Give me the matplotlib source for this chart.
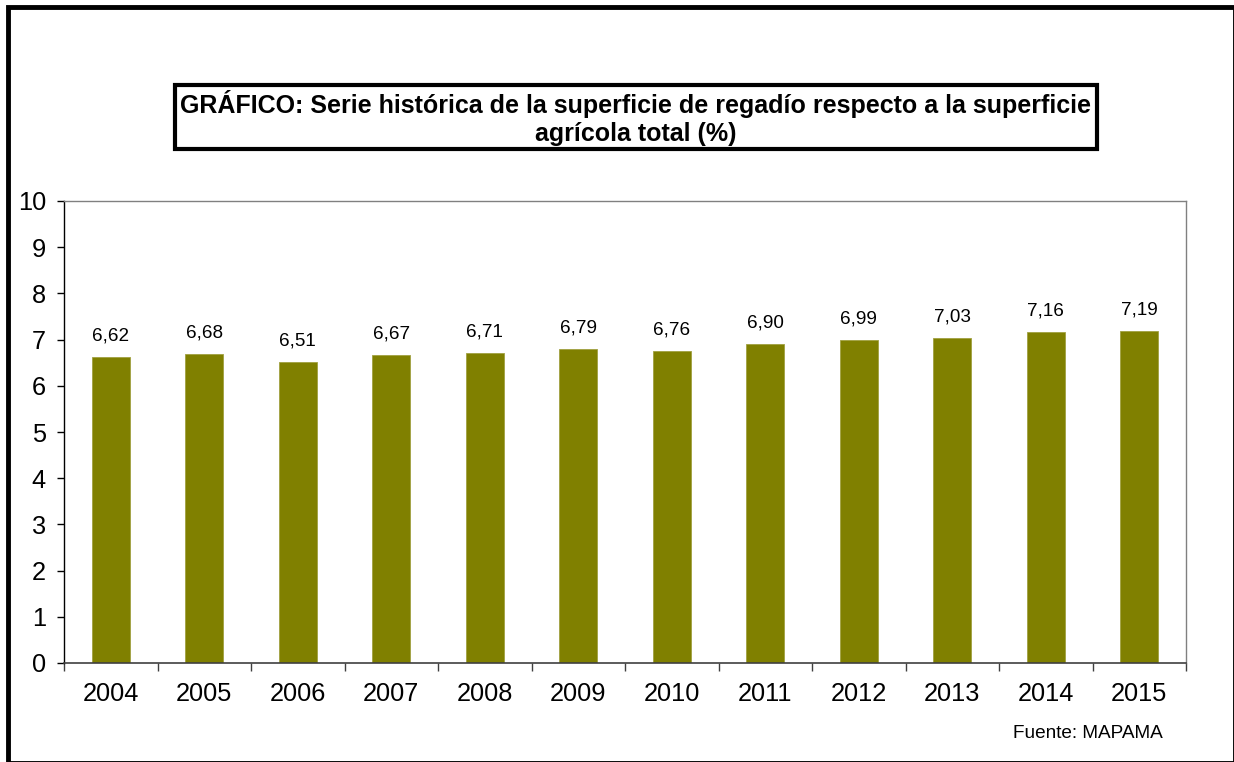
import matplotlib
matplotlib.use("Agg")
import matplotlib.pyplot as plt
from matplotlib.patches import Rectangle
import numpy as np

plt.rcParams['font.family'] = ['Liberation Sans', 'DejaVu Sans']

# datos del grafico
years = ['2004', '2005', '2006', '2007', '2008', '2009', '2010', '2011',
         '2012', '2013', '2014', '2015']
values = [6.62, 6.68, 6.51, 6.67, 6.71, 6.79, 6.76, 6.90, 6.99, 7.03, 7.16, 7.19]
title_text = ("GRÁFICO: Serie histórica de la superficie de regadío respecto a la superficie\n"
              "agrícola total (%)")
source_text = "Fuente: MAPAMA"

W, H = 1234, 762
fig = plt.figure(figsize=(W / 100, H / 100), dpi=100)

def fx(px):
    return px / W

def fy(py):
    return 1 - py / H

# marco exterior
fig.patches.append(Rectangle((fx(7.5), fy(763)), fx(1234.5) - fx(7.5), fy(7.5) - fy(763),
                             transform=fig.transFigure, fill=False, edgecolor='black',
                             linewidth=3.5, zorder=0))

# caja del titulo
fig.patches.append(Rectangle((fx(175), fy(149)), fx(1097) - fx(175), fy(85) - fy(149),
                             transform=fig.transFigure, fill=False, edgecolor='black',
                             linewidth=3.0, zorder=1))
fig.text(fx(636), fy(118), title_text, ha='center', va='center', fontsize=18,
         fontweight='bold', linespacing=1.25)

ax = fig.add_axes([fx(64), fy(663), fx(1186) - fx(64), fy(201) - fy(663)])
x = np.arange(len(years))
ax.bar(x, values, width=0.41, color='#808000', edgecolor='#a0a040', linewidth=0.6, zorder=2)

for xi, v in zip(x, values):
    ax.annotate(f"{v:.2f}".replace('.', ','), (xi, v), xytext=(0, 9),
                textcoords='offset points', ha='center', va='bottom', fontsize=13.6)

ax.set_xlim(-0.5, len(years) - 0.5)
ax.set_ylim(0, 10)
ax.set_yticks(range(0, 11))
ax.set_xticks(x)
ax.set_xticklabels(years)
ax.set_xticks(np.arange(-0.5, len(years), 1.0), minor=True)
ax.tick_params(axis='x', which='major', length=0, pad=14, labelsize=18.3)
ax.tick_params(axis='x', which='minor', length=6, width=1, color='#404040', direction='out')
ax.tick_params(axis='y', length=5, width=1, pad=8, labelsize=18.3, direction='out')

for side in ['top', 'right']:
    ax.spines[side].set_color('#808080')
    ax.spines[side].set_linewidth(1.0)
ax.spines['bottom'].set_color('#404040')
ax.spines['bottom'].set_linewidth(1.2)
ax.spines['left'].set_color('black')
ax.spines['left'].set_linewidth(1.0)

fig.text(fx(1163), fy(733), source_text, ha='right', va='center', fontsize=13.7)

fig.savefig('out.png', dpi=100)
